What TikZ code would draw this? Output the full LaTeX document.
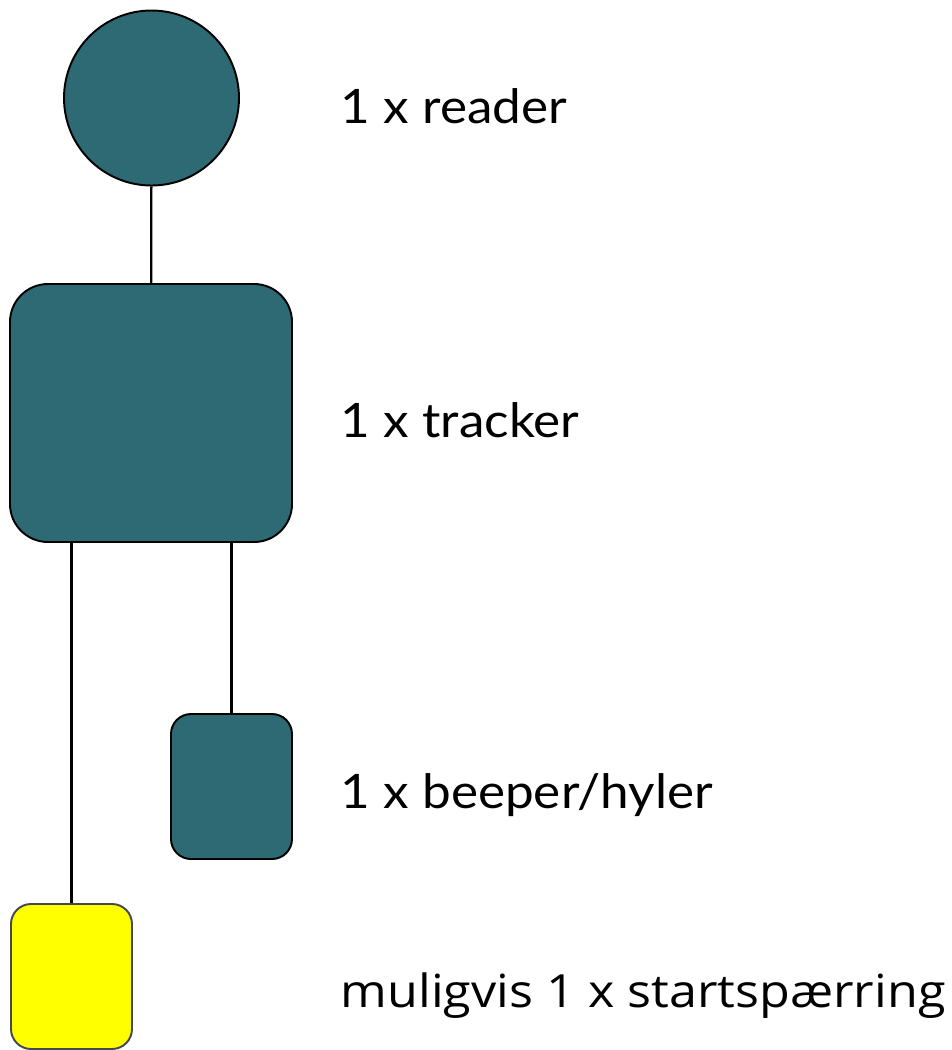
\documentclass[tikz,border=0pt]{standalone}
\usepackage{fontspec}
\setmainfont[FakeStretch=1.08]{Lato}
\newfontfamily\notefont[FakeStretch=1.1]{Open Sans}
\usetikzlibrary{shapes}
\usetikzlibrary{positioning}
\usepackage{xcolor}
\definecolor{teal}{RGB}{46,106,116}
\definecolor{warnyellow}{RGB}{255,255,0}
\definecolor{warnedge}{RGB}{68,72,82}

\begin{document}
\begin{tikzpicture}
                \useasboundingbox (0,0) rectangle (19.04,-21);
                \tikzstyle{every node}=[line width=1.1pt]
                \tikzstyle{unit}=[draw,fill=teal,rounded corners=0.4cm,inner sep=0pt]
                \tikzstyle{label}=[anchor=base west,inner sep=0pt,font=\fontsize{27}{32}\selectfont]
                \node[draw,circle,fill=teal,minimum size=3.5cm,inner sep=0pt] (reader) at (3.03,-1.96) {};
                \node[unit,rounded corners=0.76cm,minimum width=5.64cm,minimum height=5.16cm] (tracker) at (3.02,-8.26) {};
                \node[unit,minimum width=2.42cm,minimum height=2.9cm] (beeper) at (4.63,-15.73) {};
                \node[unit,draw=warnedge,fill=warnyellow,minimum width=2.42cm,minimum height=2.9cm] (lock) at (1.43,-19.53) {};

                \node[label] (readertext) at (6.8,-2.46) {1 x reader};
                \node[label] (trackertext) at (6.8,-8.74) {1 x tracker};
                \node[label] (beepertext) at (6.8,-16.16) {1 x beeper/hyler};
                \node[label,font=\notefont\fontsize{26}{31}\selectfont] (locktext) at (6.8,-20.14) {muligvis 1 x startspærring};

                \draw[line width=1.3pt] (reader) -- (tracker);
                \draw[line width=1.3pt] (beeper.north |- tracker.south) -- (beeper.north);
                \draw[line width=1.3pt] (lock.north |- tracker.south) -- (lock.north);
            \end{tikzpicture}
\end{document}
